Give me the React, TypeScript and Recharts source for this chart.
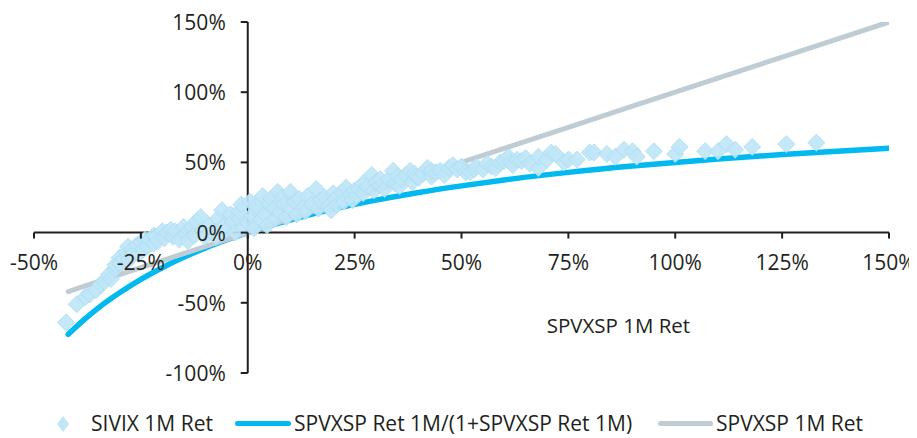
import React from 'react';
import { ComposedChart, Line, Scatter, XAxis, YAxis, ReferenceLine, ReferenceDot } from 'recharts';

const xTicks = [-0.5, -0.25, 0, 0.25, 0.5, 0.75, 1, 1.25, 1.5];
const yTicks = [-1, -0.5, 0, 0.5, 1, 1.5];

const lineX = [-0.42, -0.38, -0.35, -0.3, -0.25, -0.2, -0.15, -0.1, -0.05, 0, 0.05, 0.1, 0.2, 0.3, 0.4, 0.5, 0.6, 0.75, 0.9, 1.0, 1.1, 1.25, 1.4, 1.5];
const ratioY = [-0.724, -0.613, -0.538, -0.429, -0.333, -0.25, -0.176, -0.111, -0.053, 0, 0.048, 0.091, 0.167, 0.231, 0.286, 0.333, 0.375, 0.429, 0.474, 0.5, 0.524, 0.556, 0.583, 0.6];
const identityY = [-0.42, -0.38, -0.35, -0.3, -0.25, -0.2, -0.15, -0.1, -0.05, 0, 0.05, 0.1, 0.2, 0.3, 0.4, 0.5, 0.6, 0.75, 0.9, 1.0, 1.1, 1.25, 1.4, 1.5];

const sivixPoints: [number, number][] = [
  [-0.425, -0.64], [-0.40, -0.51], [-0.38, -0.46], [-0.37, -0.44], [-0.355, -0.41], [-0.345, -0.37],
  [-0.335, -0.35], [-0.325, -0.30], [-0.32, -0.33], [-0.31, -0.26], [-0.31, -0.23], [-0.30, -0.18],
  [-0.30, -0.22], [-0.29, -0.19], [-0.285, -0.14], [-0.28, -0.20], [-0.28, -0.10], [-0.27, -0.12], [-0.27, -0.16],
  [-0.26, -0.09], [-0.255, -0.15], [-0.25, -0.07], [-0.245, -0.12], [-0.24, -0.05], [-0.235, -0.10],
  [-0.23, -0.05], [-0.22, -0.08], [-0.22, -0.02], [-0.215, -0.03], [-0.21, -0.06], [-0.20, 0.01], [-0.195, -0.04],
  [-0.19, 0.0], [-0.18, 0.02], [-0.175, -0.03], [-0.17, 0.01], [-0.16, -0.05], [-0.15, 0.04], [-0.145, -0.01],
  [-0.14, -0.06], [-0.13, 0.04], [-0.125, -0.02], [-0.12, 0.08], [-0.11, 0.11], [-0.105, 0.02], [-0.10, -0.03],
  [-0.09, 0.05], [-0.08, 0.01], [-0.075, -0.03], [-0.07, 0.10], [-0.06, 0.16], [-0.055, 0.05], [-0.05, 0.02],
  [-0.04, 0.13], [-0.035, 0.08], [-0.03, 0.0], [-0.02, 0.10], [-0.02, 0.15], [-0.015, 0.20], [-0.01, 0.04],
  [0.0, 0.07], [0.005, 0.22], [0.01, 0.12], [0.015, 0.03], [0.02, 0.16], [0.02, 0.19], [0.03, 0.09],
  [0.035, 0.26], [0.04, 0.13], [0.045, 0.05], [0.05, 0.20], [0.055, 0.24], [0.06, 0.17], [0.065, 0.10],
  [0.07, 0.29], [0.075, 0.14], [0.08, 0.25], [0.085, 0.20], [0.09, 0.11], [0.10, 0.29], [0.10, 0.17],
  [0.11, 0.22], [0.115, 0.13], [0.12, 0.24], [0.13, 0.18], [0.135, 0.15], [0.14, 0.26], [0.15, 0.20],
  [0.16, 0.31], [0.165, 0.17], [0.17, 0.23], [0.18, 0.25], [0.19, 0.19], [0.195, 0.16],
  [0.20, 0.28], [0.205, 0.24], [0.21, 0.20], [0.22, 0.29], [0.225, 0.22], [0.23, 0.32], [0.24, 0.27],
  [0.245, 0.23], [0.25, 0.30], [0.255, 0.26], [0.26, 0.31], [0.27, 0.28], [0.27, 0.35], [0.28, 0.33], [0.29, 0.41],
  [0.295, 0.30], [0.30, 0.36], [0.31, 0.34], [0.31, 0.38], [0.32, 0.31], [0.33, 0.38], [0.34, 0.44],
  [0.345, 0.35], [0.35, 0.40], [0.355, 0.33], [0.36, 0.38], [0.37, 0.41], [0.38, 0.44], [0.385, 0.36],
  [0.39, 0.42], [0.395, 0.40], [0.40, 0.39], [0.41, 0.42], [0.42, 0.46], [0.43, 0.40], [0.43, 0.44], [0.44, 0.43],
  [0.45, 0.44], [0.46, 0.41], [0.47, 0.46], [0.48, 0.48], [0.49, 0.45], [0.50, 0.47], [0.51, 0.43],
  [0.52, 0.43], [0.53, 0.45], [0.535, 0.47], [0.55, 0.45], [0.56, 0.49], [0.57, 0.47], [0.58, 0.46], [0.59, 0.50],
  [0.60, 0.51], [0.61, 0.54], [0.615, 0.50], [0.62, 0.48], [0.63, 0.52], [0.64, 0.51], [0.65, 0.53], [0.66, 0.49], [0.68, 0.46],
  [0.68, 0.54], [0.70, 0.52], [0.71, 0.57], [0.72, 0.56], [0.74, 0.50], [0.75, 0.52],
  [0.77, 0.52], [0.80, 0.57], [0.81, 0.57], [0.84, 0.56], [0.86, 0.54], [0.88, 0.59],
  [0.90, 0.58], [0.91, 0.54], [0.95, 0.58], [1.00, 0.56], [1.01, 0.61], [1.07, 0.58],
  [1.10, 0.58], [1.12, 0.63], [1.14, 0.59], [1.18, 0.61], [1.26, 0.63], [1.33, 0.64],
];

const seriesNames = ['SIVIX 1M Ret', 'SPVXSP Ret 1M/(1+SPVXSP Ret 1M)', 'SPVXSP 1M Ret'];
const axisTitle = 'SPVXSP 1M Ret';

const BLUE = '#00b9f1';
const GREY = '#c0ccd4';
const DIAMOND = '#bfe6f7';
const INK = '#231f20';
const FONT = '"Open Sans", sans-serif';

const ratioData = lineX.map((x, i) => ({ x, y: ratioY[i] }));
const identityData = lineX.map((x, i) => ({ x, y: identityY[i] }));
const sivixData = sivixPoints.map(([x, y]) => ({ x, y }));

const pct = (v: number) => `${Math.round(v * 100)}%`;

const DiamondShape = (props: any) => {
  const { cx, cy } = props;
  const r = 8.5;
  return (
    <polygon
      points={`${cx},${cy - r} ${cx + r},${cy} ${cx},${cy + r} ${cx - r},${cy}`}
      fill={DIAMOND}
      fillOpacity={0.9}
      stroke="#aadcf1"
      strokeWidth={0.8}
    />
  );
};

const XTickShape = (label: string) => (props: any) => {
  const { cx, cy } = props;
  return (
    <g>
      <line x1={cx} y1={cy} x2={cx} y2={cy + 6} stroke={INK} strokeWidth={2} />
      <text x={cx} y={cy + 29} textAnchor="middle" dominantBaseline="central" fontFamily={FONT} fontSize={21} fill={INK}>
        {label}
      </text>
    </g>
  );
};

const YTickShape = (label: string) => (props: any) => {
  const { cx, cy } = props;
  return (
    <g>
      <line x1={cx - 7} y1={cy} x2={cx} y2={cy} stroke={INK} strokeWidth={2} />
      <text x={cx - 22} y={cy} textAnchor="end" dominantBaseline="central" fontFamily={FONT} fontSize={21} fill={INK}>
        {label}
      </text>
    </g>
  );
};

const TitleShape = (props: any) => {
  const { cx, cy } = props;
  return (
    <text x={cx} y={cy} textAnchor="middle" dominantBaseline="central" fontFamily={FONT} fontSize={20.5} fill={INK}>
      {axisTitle}
    </text>
  );
};

const legendText: React.CSSProperties = {
  position: 'absolute',
  top: 404,
  fontSize: 21,
  color: INK,
  whiteSpace: 'nowrap',
  lineHeight: '22px',
};

export default function App() {
  return (
    <div style={{ position: 'relative', width: 909, height: 430, fontFamily: FONT }}>
      <ComposedChart width={909} height={380} margin={{ top: 14, right: 28, bottom: 15, left: 26 }}>
        <XAxis type="number" dataKey="x" domain={[-0.5, 1.5]} ticks={xTicks} hide allowDataOverflow />
        <YAxis type="number" dataKey="y" domain={[-1, 1.5]} ticks={yTicks} hide allowDataOverflow />
        <Scatter data={sivixData} dataKey="y" shape={DiamondShape} isAnimationActive={false} />
        <ReferenceLine y={0} stroke={INK} strokeWidth={2} ifOverflow="visible" />
        <ReferenceLine x={0} stroke={INK} strokeWidth={2} ifOverflow="visible" />
        <Line data={ratioData} dataKey="y" type="monotone" stroke={BLUE} strokeWidth={5.5} dot={false} isAnimationActive={false} strokeLinecap="round" />
        <Line data={identityData} dataKey="y" type="linear" stroke={GREY} strokeWidth={5} dot={false} isAnimationActive={false} strokeLinecap="round" />
        {xTicks.map((t) => (
          <ReferenceDot key={`xt${t}`} x={t} y={0} ifOverflow="visible" shape={XTickShape(pct(t))} />
        ))}
        {yTicks.map((t) => (
          <ReferenceDot key={`yt${t}`} x={0} y={t} ifOverflow="visible" shape={YTickShape(pct(t))} />
        ))}
        <ReferenceDot x={0.867} y={-0.657} ifOverflow="visible" shape={TitleShape} />
      </ComposedChart>
      <div style={{ position: 'absolute', left: 49, top: 407 }}>
        <svg width={12} height={16}>
          <polygon points="6,0 12,8 6,16 0,8" fill={DIAMOND} />
        </svg>
      </div>
      <div style={{ ...legendText, left: 83 }}>{seriesNames[0]}</div>
      <div style={{ position: 'absolute', left: 227, top: 413, width: 56, height: 5, borderRadius: 3, background: BLUE }} />
      <div style={{ ...legendText, left: 286 }}>{seriesNames[1]}</div>
      <div style={{ position: 'absolute', left: 650, top: 413, width: 55, height: 5, borderRadius: 3, background: GREY }} />
      <div style={{ ...legendText, left: 708 }}>{seriesNames[2]}</div>
    </div>
  );
}
